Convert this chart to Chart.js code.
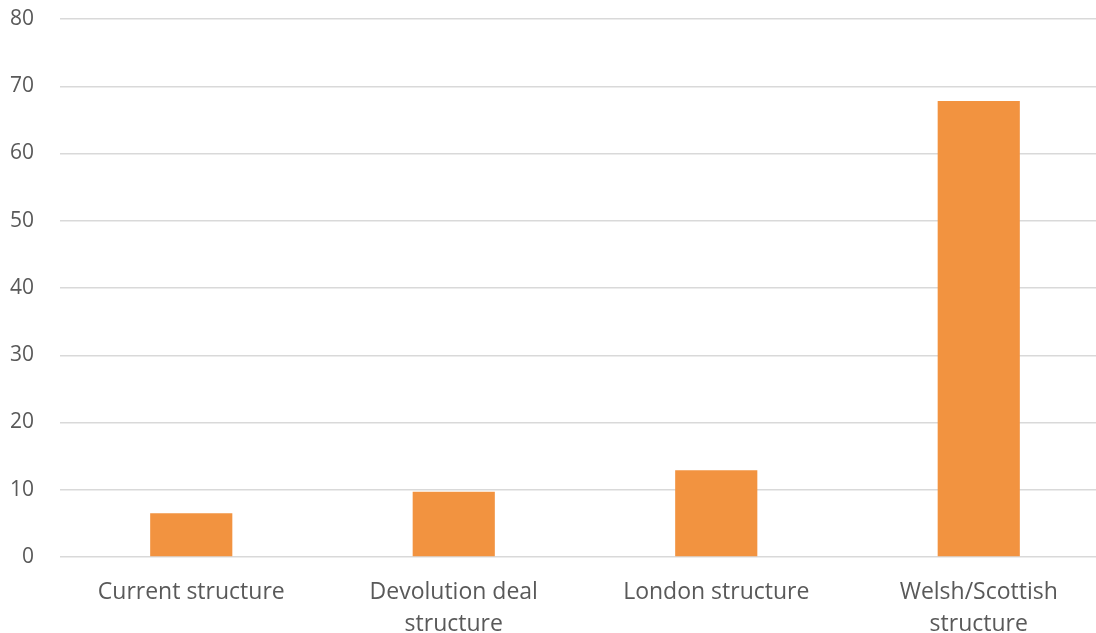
<!DOCTYPE html>
<html>
<head>
<meta charset="utf-8">
<script src="https://cdn.jsdelivr.net/npm/chart.js@4"></script>
<style>
  html, body { margin: 0; padding: 0; background: #fff; overflow: hidden; }
  #wrap { width: 1110px; height: 633px; }
</style>
</head>
<body>
<div id="wrap"><canvas id="barChart"></canvas></div>
<script>
// structure options and their scores
const categories = [
  "Current structure",
  ["Devolution deal", "structure"],
  "London structure",
  ["Welsh/Scottish", "structure"],
];
const scores = [6.5, 9.7, 12.9, 67.8];
const yTicks = { min: 0, max: 80, step: 10 };

const textColor = "#595959";
const family = "'Open Sans', sans-serif";

new Chart(document.getElementById("barChart"), {
  type: "bar",
  data: {
    labels: categories,
    datasets: [{
      data: scores,
      backgroundColor: "#f29340",
      borderWidth: 0,
      categoryPercentage: 1,
      barPercentage: 0.313,
    }],
  },
  options: {
    responsive: true,
    maintainAspectRatio: false,
    animation: false,
    layout: { padding: { top: 19, left: 0, right: 0, bottom: 0 } },
    plugins: { legend: { display: false }, tooltip: { enabled: false } },
    scales: {
      x: {
        grid: { display: false },
        border: { display: false },
        ticks: {
          color: textColor,
          font: { family: family, size: 23, lineHeight: 1.38 },
          padding: 12,
          maxRotation: 0,
          autoSkip: false,
        },
        afterFit: (axis) => { axis.height = 76; },
      },
      y: {
        min: yTicks.min,
        max: yTicks.max,
        ticks: { stepSize: yTicks.step, color: textColor, font: { family: family, size: 21 }, padding: 26 },
        grid: { color: "#d9d9d9", lineWidth: 1.5, drawTicks: false },
        border: { display: false },
        afterFit: (axis) => {
          axis.width = 60;
          axis.paddingTop = 0;
          axis.paddingBottom = 0;
        },
      },
    },
  },
});
</script>
</body>
</html>
